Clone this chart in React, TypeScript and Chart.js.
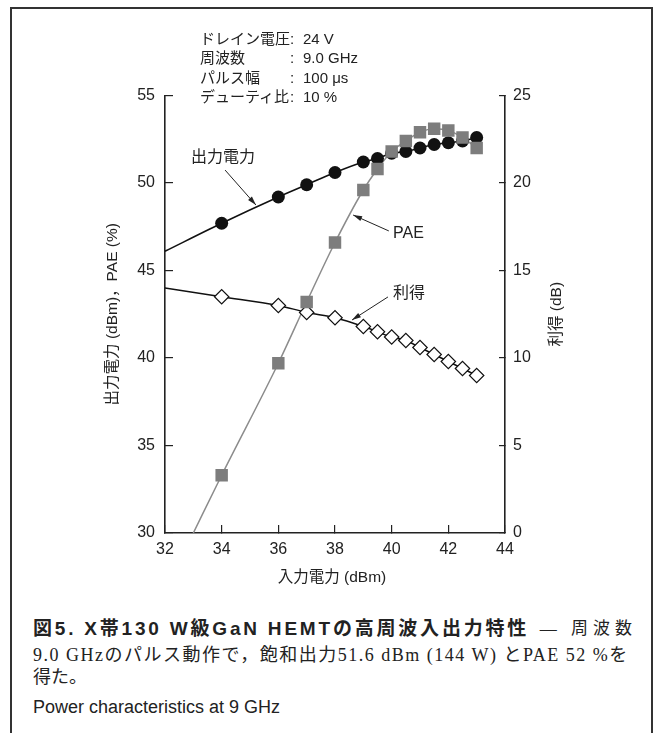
import React, { useEffect, useRef } from "react";
import { Chart, registerables } from "chart.js";

Chart.register(...registerables);

// ---- data ----
const inputPower = [34, 36, 37, 38, 39, 39.5, 40, 40.5, 41, 41.5, 42, 42.5, 43];
const outputPower = [47.7, 49.2, 49.9, 50.6, 51.2, 51.4, 51.7, 51.8, 52.0, 52.2, 52.3, 52.4, 52.6];
const pae = [33.3, 39.7, 43.2, 46.6, 49.6, 50.8, 51.8, 52.4, 52.9, 53.1, 53.0, 52.6, 52.0];
const gain = [13.5, 13.0, 12.6, 12.3, 11.8, 11.5, 11.2, 11.0, 10.6, 10.2, 9.8, 9.4, 9.0];
// start points of the fitted curves (x, y)
const outputCurveStart = [32, 46.1];
const paeCurveStart = [33, 30];
const gainCurveStart = [32, 14.0];

const xTicks = { min: 32, max: 44, step: 2 };
const leftTicks = { min: 30, max: 55, step: 5 };
const rightTicks = { min: 0, max: 25, step: 5 };

const conditionLabels = ["ドレイン電圧", "周波数", "パルス幅", "デューティ比"];
const conditionValues = ["24 V", "9.0 GHz", "100 μs", "10 %"];

// annotation labels with arrows (data coordinates on x / left y axis)
const noteText = ["出力電力", "PAE", "利得"];
const noteTextX = [34.05, 40.05, 40.05];
const noteTextY = [51.43, 47.09, 43.66];
const noteAlign = ["center", "left", "left"];
const arrowFromX = [34.12, 39.9, 39.87];
const arrowFromY = [50.74, 47.26, 43.49];
const arrowToX = [35.21, 38.64, 38.6];
const arrowToY = [48.74, 48.17, 42.17];

const FONT = '"Liberation Sans", "Noto Sans CJK JP", sans-serif';
const SERIF = '"Liberation Serif", "Noto Sans CJK JP", serif';
const INK = "#222";

const pts = (xs: number[], ys: number[]) => xs.map((x, i) => ({ x, y: ys[i] }));

function drawArrow(ctx: CanvasRenderingContext2D, x1: number, y1: number, x2: number, y2: number) {
  ctx.beginPath();
  ctx.moveTo(x1, y1);
  ctx.lineTo(x2, y2);
  ctx.stroke();
  const a = Math.atan2(y2 - y1, x2 - x1);
  const L = 9, W = 2.6;
  ctx.beginPath();
  ctx.moveTo(x2, y2);
  ctx.lineTo(x2 - L * Math.cos(a) + W * Math.sin(a), y2 - L * Math.sin(a) - W * Math.cos(a));
  ctx.lineTo(x2 - L * Math.cos(a) - W * Math.sin(a), y2 - L * Math.sin(a) + W * Math.cos(a));
  ctx.closePath();
  ctx.fill();
}

const notesPlugin = {
  id: "notes",
  afterDraw(chart: any) {
    const { ctx, scales, chartArea } = chart;
    const sx = scales.x, sy = scales.y;
    ctx.save();
    ctx.fillStyle = INK;
    ctx.strokeStyle = INK;
    ctx.lineWidth = 1;
    ctx.font = `16px ${FONT}`;
    ctx.textBaseline = "middle";
    noteText.forEach((t, i) => {
      ctx.textAlign = noteAlign[i] as CanvasTextAlign;
      ctx.fillText(t, sx.getPixelForValue(noteTextX[i]), sy.getPixelForValue(noteTextY[i]));
      drawArrow(
        ctx,
        sx.getPixelForValue(arrowFromX[i]),
        sy.getPixelForValue(arrowFromY[i]),
        sx.getPixelForValue(arrowToX[i]),
        sy.getPixelForValue(arrowToY[i])
      );
    });
    // axis titles
    const midY = (chartArea.top + chartArea.bottom) / 2;
    ctx.font = `15.5px ${FONT}`;
    ctx.textAlign = "center";
    ctx.save();
    ctx.translate(chartArea.left - 52, midY);
    ctx.rotate(-Math.PI / 2);
    ctx.fillText("出力電力 (dBm)，PAE (%)", 0, 0);
    ctx.restore();
    ctx.save();
    ctx.translate(chartArea.right + 52, midY);
    ctx.rotate(-Math.PI / 2);
    ctx.fillText("利得 (dB)", 0, 0);
    ctx.restore();
    ctx.fillText("入力電力 (dBm)", (chartArea.left + chartArea.right) / 2 - 3, chartArea.bottom + 45);
    ctx.restore();
  },
};

function ChartBox() {
  const ref = useRef<HTMLCanvasElement>(null);
  useEffect(() => {
    if (!ref.current) return;
    const tickFont = { family: FONT, size: 16 };
    const chart = new Chart(ref.current, {
      type: "scatter",
      data: {
        datasets: [
          {
            label: "PAE",
            data: pts(inputPower, pae),
            yAxisID: "y",
            showLine: false,
            pointStyle: "rect",
            pointRadius: 8.8,
            backgroundColor: "#7d7d7d",
            borderColor: "#7d7d7d",
            borderWidth: 0,
            order: 0,
          },
          {
            label: "出力電力",
            data: pts(inputPower, outputPower),
            yAxisID: "y",
            showLine: false,
            pointStyle: "circle",
            pointRadius: 6.5,
            backgroundColor: "#111",
            borderColor: "#111",
            borderWidth: 0,
            order: 1,
          },
          {
            label: "利得",
            data: pts(inputPower, gain),
            yAxisID: "y1",
            showLine: false,
            pointStyle: "rectRot",
            pointRadius: 7.2,
            backgroundColor: "#fff",
            borderColor: "#111",
            borderWidth: 1.2,
            order: 2,
          },
          {
            label: "出力電力 curve",
            data: [{ x: outputCurveStart[0], y: outputCurveStart[1] }, ...pts(inputPower, outputPower)],
            yAxisID: "y",
            showLine: true,
            pointRadius: 0,
            borderColor: "#111",
            borderWidth: 1.6,
            cubicInterpolationMode: "monotone",
            order: 3,
          },
          {
            label: "PAE curve",
            data: [{ x: paeCurveStart[0], y: paeCurveStart[1] }, ...pts(inputPower, pae)],
            yAxisID: "y",
            showLine: true,
            pointRadius: 0,
            borderColor: "#8c8c8c",
            borderWidth: 1.5,
            cubicInterpolationMode: "monotone",
            order: 4,
          },
          {
            label: "利得 curve",
            data: [{ x: gainCurveStart[0], y: gainCurveStart[1] }, ...pts(inputPower, gain)],
            yAxisID: "y1",
            showLine: true,
            pointRadius: 0,
            borderColor: "#111",
            borderWidth: 1.4,
            cubicInterpolationMode: "monotone",
            order: 5,
          },
        ],
      },
      options: {
        responsive: false,
        animation: false,
        events: [],
        layout: { padding: { left: 85, right: 93, top: 95.5, bottom: 27 } },
        plugins: { legend: { display: false }, tooltip: { enabled: false } },
        scales: {
          x: {
            type: "linear",
            min: xTicks.min,
            max: xTicks.max,
            ticks: { stepSize: xTicks.step, font: tickFont, color: INK, padding: 15, maxRotation: 0 },
            grid: { drawOnChartArea: false, tickLength: -8, color: INK, lineWidth: 1.2 },
            border: { color: INK, width: 1.6 },
            afterFit: (s: any) => { s.height = 40; },
          },
          y: {
            type: "linear",
            position: "left",
            min: leftTicks.min,
            max: leftTicks.max,
            ticks: { stepSize: leftTicks.step, font: tickFont, color: INK, padding: 18 },
            grid: { drawOnChartArea: false, tickLength: -8, color: INK, lineWidth: 1.2 },
            border: { color: INK, width: 1.6 },
            afterFit: (s: any) => { s.width = 80; },
          },
          y1: {
            type: "linear",
            position: "right",
            min: rightTicks.min,
            max: rightTicks.max,
            ticks: { stepSize: rightTicks.step, font: tickFont, color: INK, padding: 14 },
            grid: { drawOnChartArea: false, tickLength: -6, color: INK, lineWidth: 1.2 },
            border: { color: INK, width: 1.6 },
            afterFit: (s: any) => { s.width = 60; },
          },
        },
      } as any,
      plugins: [notesPlugin],
    });
    return () => chart.destroy();
  }, []);
  return (
    <canvas
      ref={ref}
      width={658}
      height={600}
      style={{ position: "absolute", left: 0, top: 0, width: 658, height: 600 }}
    />
  );
}

export default function App() {
  return (
    <div style={{ position: "absolute", left: 0, top: 0, width: 658, height: 733, background: "#fff", overflow: "hidden", color: INK }}>
      <div
        style={{
          position: "absolute",
          left: 10,
          top: 7,
          width: 643,
          height: 760,
          border: "2px solid #333",
          boxSizing: "border-box",
        }}
      />
      <ChartBox />
      <div style={{ position: "absolute", left: 200, top: 29, fontFamily: FONT, fontSize: 15, lineHeight: "19.3px" }}>
        {conditionLabels.map((l, i) => (
          <div key={i} style={{ display: "flex", whiteSpace: "nowrap" }}>
            <span style={{ width: 90, flexShrink: 0, display: "inline-block" }}>{l}</span>
            <span style={{ width: 13, flexShrink: 0, display: "inline-block" }}>:</span>
            <span>{conditionValues[i]}</span>
          </div>
        ))}
      </div>
      <div
        style={{
          position: "absolute",
          left: 33,
          top: 617,
          width: 599,
          fontSize: 19,
          lineHeight: "24px",
          fontFamily: FONT,
          display: "flex",
          justifyContent: "space-between",
          whiteSpace: "nowrap",
        }}
      >
        <span style={{ fontWeight: "bold", letterSpacing: "2.8px" }}>図5.  X帯130 W級GaN HEMTの高周波入出力特性</span>
        <span style={{ fontFamily: SERIF, fontSize: 17, letterSpacing: "5px", marginRight: -5 }}>— 周波数</span>
      </div>
      <div
        style={{
          position: "absolute",
          left: 33,
          top: 644,
          fontSize: 18,
          lineHeight: "22px",
          letterSpacing: "1.5px",
          whiteSpace: "nowrap",
          fontFamily: SERIF,
        }}
      >
        9.0 GHzのパルス動作で，飽和出力51.6 dBm (144 W) とPAE 52 %を
      </div>
      <div
        style={{
          position: "absolute",
          left: 33,
          top: 666,
          fontSize: 18,
          lineHeight: "22px",
          fontFamily: SERIF,
        }}
      >
        得た。
      </div>
      <div
        style={{
          position: "absolute",
          left: 33,
          top: 697,
          fontSize: 18,
          lineHeight: "21px",
          fontFamily: FONT,
          whiteSpace: "nowrap",
        }}
      >
        Power characteristics at 9 GHz
      </div>
    </div>
  );
}
